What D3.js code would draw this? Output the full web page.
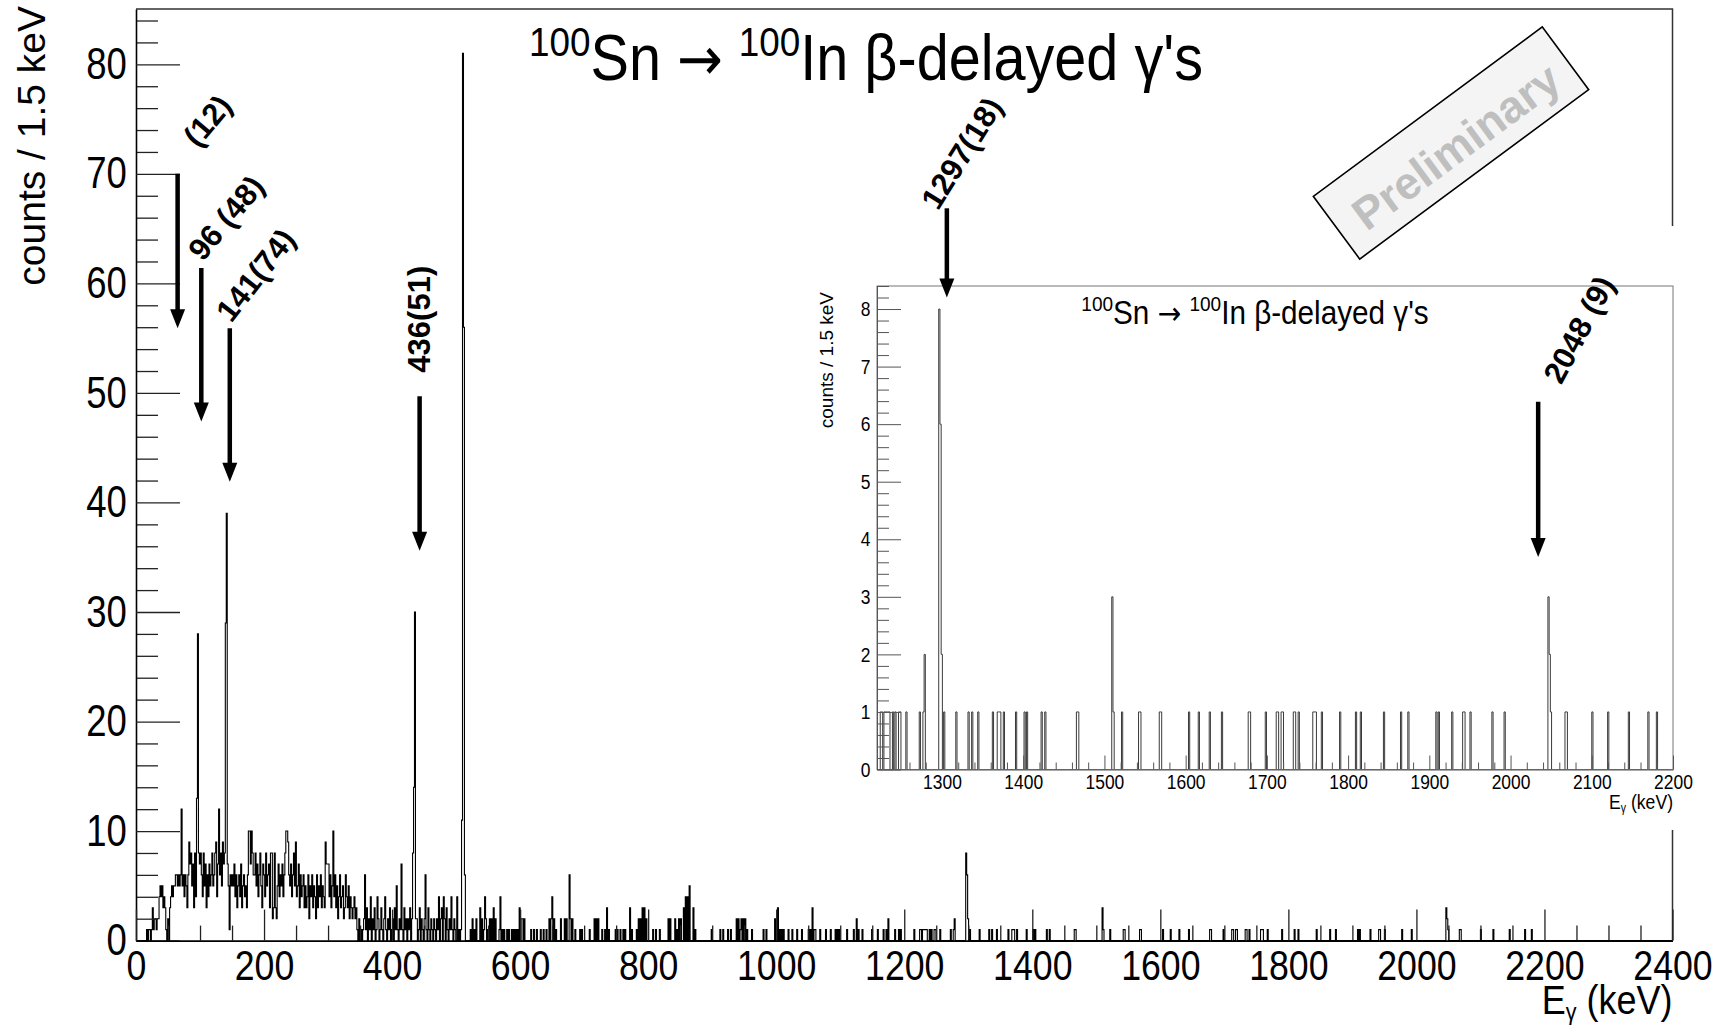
<!DOCTYPE html>
<html>
<head>
<meta charset="utf-8">
<script src="https://cdn.jsdelivr.net/npm/d3@7"></script>
<style>
  body { margin: 0; background: #fff; }
  svg { display: block; }
  text { font-family: "Liberation Sans", Arial, Helvetica, sans-serif; }
</style>
</head>
<body>
<svg id="chart" width="1731" height="1025"></svg>
<script>
// ---------------------------------------------------------------
// 100Sn -> 100In beta-delayed gamma spectrum, 1.5 keV bins
// ---------------------------------------------------------------
const binWidth = 1.5;   // keV per bin

// counts per bin, bins 0..99 (0 - 150 keV)
const counts0to150 = [
  0,0,0,0,0,0,0,0,0,0,0,
  1,0,1,1,0,1,
  3,1,2,2,1,2,2,
  4,5,4,5,3,4,
  3,1,0,2,0,3,
  4,5,4,5,5,6,
  6,5,6,5,6,
  12,
  5,6,4,6,5,3,6,
  9,7,8,5,7,3,8,4,
  13,28,8,
  7,8,6,4,8,5,7,3,6,4,7,5,6,8,5,
  6,8,9,4,7,12,6,8,5,9,7,8,
  29,39,7,
  5,1,6,5
];

// counts per bin, bins 100..199 (150 - 300 keV)
const counts150to300 = [
  6,5,7,4,6,3,5,6,4,7,3,5,6,4,5,3,6,
  10,10,7,10,8,6,
  6,8,5,7,4,6,8,5,3,7,6,4,8,5,6,7,3,
  8,8,2,3,8,3,2,
  5,7,4,6,
  5,7,4,6,8,
  10,10,9,6,5,
  7,4,6,8,5,9,
  4,5,7,3,6,4,5,6,3,
  5,3,4,6,2,5,4,6,3,5,4,2,6,3,5,4,6,3,5,4,3,
  9,7,7
];

// counts per bin, bins 200..343 (300 - 516 keV)
const counts300to516 = [
  7,4,6,3,5,
  10,
  4,6,3,5,2,4,6,3,4,5,2,3,6,4,3,5,2,4,3,2,3,4,2,3,1,0,2,
  0,1,0,1,2,
  6,
  1,3,0,2,1,4,0,2,1,3,0,1,4,2,0,1,3,1,0,2,4,1,0,2,1,3,0,1,2,0,3,1,
  5,
  1,0,2,1,
  7,
  1,0,3,1,2,0,2,1,3,0,2,
  8,14,30,2,
  2,0,1,3,0,2,1,0,2,
  6,
  1,0,3,1,0,2,1,0,2,1,0,2,1,
  4,
  0,2,3,0,
  4,
  2,0,3,1,0,2,1,
  4,
  1,0,2,1,0,
  4,
  0,1,0,1,
  11,81,56,6,0
];

// isolated non-empty bins above 516 keV: [energy keV, counts]
const hits516to1220 = [
  [522,1],[525,2],[528,1],[531,2],[537,3],[540,2],[543,1],[545,4],[547,2],[550,1],
  [553,2],[556,2],[559,3],[562,2],[567,1],[568.5,4],[571.5,1],[574.5,1],[579,1],[582,1],
  [586.5,1],[589.5,1],[592.5,1],[596,1],[598.5,3],[601.5,2],[603,2],[606,2],[617,1],[621,1],
  [625.5,1],[632,1],[637,1],[641,1],[646,2],[648,2],[650,4],[653,2],[656,1],[664,2],
  [670,2],[673,2],[676.5,6],[679,2],[682,2],[686,1],[694,1],[697,1],[709,1],[716,2],
  [719,2],[722,2],[728,1],[733,1],[735.5,3],[738,1],[749,1],[752,1],[757,1],[761,1],
  [764,1],[771,3],[775,1],[782,1],[785,2],[788,2],[791,3],[794,3],[797,2],[808,1],
  [812,1],[818,1],[831,2],[834,2],[842,2],[845,1],[848,2],[851,2],[855,3],[858,4],
  [862,4],[865,5],[870,3],[873,1],[899,1],[912,1],[917,1],[925,1],[929,1],[938,2],
  [941,2],[944,1],[946,2],[949,2],[952,2],[954,1],[962,1],[980,1],[985,1],[998,2],
  [1003,3],[1006,1],[1009,1],[1012,1],[1019,1],[1025,1],[1032,1],[1040,1],[1050,1],[1053,1],
  [1056,3],[1059,1],[1061,1],[1069,1],[1077,1],[1085,1],[1092,1],[1095,1],[1098,1],[1111,1],
  [1121,1],[1125,2],[1129,1],[1134,1],[1150,1],[1159,1],[1168,1],[1172,1],[1175,2],[1186,1],
  [1191,1],[1194,1],[1215,1]
];

const hits1220to2200 = [
  [1224,1],[1226,1],[1229,1],[1230.5,1],[1232,1],[1234,1],[1235.5,1],[1240,1],[1242,1],[1247.5,1],
  [1249,1],[1256.5,1],[1272,1],[1277,1],[1279,2],[1296,8],[1297.5,6],[1299,2],[1302,1],[1318,1],
  [1332,1],[1337,1],[1345,1],[1362,1],[1368.5,1],[1370,1],[1372,1],[1376,1],[1391,1],[1401,1],
  [1404,1],[1422,1],[1427,1],[1466,1],[1468,1],[1509,3],[1510.5,1],[1522,1],[1542,1],[1543.5,1],
  [1568,1],[1570,1],[1604,1],[1615.5,1],[1629,1],[1645,1],[1678,1],[1679.5,1],[1699,1],[1712,1],
  [1714,1],[1718,1],[1719.5,1],[1732.5,1],[1734,1],[1739.5,1],[1757,1],[1758.5,1],[1760,1],[1767.5,1],
  [1790,1],[1810,1],[1816,1],[1844.5,1],[1865,1],[1874,1],[1909,1],[1911,1],[1927.5,1],[1942,1],
  [1943.5,1],[1950,1],[1977,1],[1993,1],[2046,3],[2047.5,2],[2049,1],[2067,1],[2068.5,1],[2101,1],
  [2120.5,1],[2146,1],[2170,1],[2180,1]
];

// axis ticks
const mainXTicks = [0,200,400,600,800,1000,1200,1400,1600,1800,2000,2200,2400];
const mainYTicks = [0,10,20,30,40,50,60,70,80];
const insetXTicks = [1300,1400,1500,1600,1700,1800,1900,2000,2100,2200];
const insetYTicks = [0,1,2,3,4,5,6,7,8];

// identified transitions: label, arrow energy (keV), arrow top / tip (counts)
const mainPeakLabels  = ["(12)", "96 (48)", "141(74)", "436(51)"];
const mainPeakEnergy  = [65, 102, 146.5, 443];
const mainArrowTop    = [70, 61.4, 55.9, 49.7];
const mainArrowTip    = [55.9, 47.4, 41.9, 35.6];

const insetPeakLabels = ["1297(18)", "2048 (9)"];
const insetPeakEnergy = [1306, 2034];
const insetArrowTop   = [9.75, 6.39];
const insetArrowTip   = [8.2, 3.69];

// ---------------------------------------------------------------
const svg = d3.select("#chart");
const nBins = 1600;
const counts = new Array(nBins).fill(0);
[...counts0to150, ...counts150to300, ...counts300to516].forEach((c, i) => { counts[i] = c; });
[...hits516to1220, ...hits1220to2200].forEach(([e, c]) => { counts[Math.floor(e / binWidth + 1e-9)] = c; });

function stepPath(xs, ys, i0, i1) {
  let d = `M${xs(i0 * binWidth)},${ys(counts[i0])}`;
  for (let i = i0; i <= i1; i++) {
    d += `H${xs((i + 1) * binWidth)}`;
    if (i < i1) d += `V${ys(counts[i + 1])}`;
  }
  return d;
}

function arrow(g, px, y0, y1) {
  const head = 19, hw = 7.5;
  g.append("line").attr("x1", px).attr("x2", px).attr("y1", y0).attr("y2", y1 - head + 2)
    .attr("stroke", "#000").attr("stroke-width", 4.5);
  g.append("path").attr("d", `M${px - hw},${y1 - head}L${px + hw},${y1 - head}L${px},${y1}Z`)
    .attr("fill", "#000");
}

// narrow-set text: a group placed at (px,py) and squeezed horizontally
function narrowText(parent, px, py, sx, size, anchor) {
  return parent.append("g").attr("transform", `translate(${px},${py}) scale(${sx},1)`)
    .append("text").attr("text-anchor", anchor).attr("font-size", size);
}

function reactionTitle(sel, size) {
  const sup = t => sel.append("tspan").attr("font-size", size * 0.64).attr("baseline-shift", "60%").text(t);
  const txt = t => sel.append("tspan").text(t);
  sup("100"); txt("Sn ");
  sel.append("tspan").attr("font-family", "'DejaVu Sans', sans-serif").attr("font-size", size * 0.95).text("→");
  txt(" "); sup("100"); txt("In β-delayed γ's");
}

// ---------------- main frame ----------------
const M = { left: 136, right: 1672.5, top: 9, bottom: 940.6 };
const x = d3.scaleLinear().domain([0, 2400]).range([M.left, M.right]);
const y = d3.scaleLinear().domain([0, 85.05]).range([M.bottom, M.top]);
const tickSX = 0.83;

const mainG = svg.append("g");

// frame top/right
mainG.append("path")
  .attr("d", `M${M.left},${M.top}H${M.right}V${M.bottom}`)
  .attr("fill", "none").attr("stroke", "#333").attr("stroke-width", 1.5);

// histogram
mainG.append("path")
  .attr("d", stepPath(x, y, 0, nBins - 1))
  .attr("fill", "none").attr("stroke", "#000").attr("stroke-width", 1.1);

// y axis
const yMinor = d3.range(0, 85, 2).filter(v => v % 10 !== 0);
mainG.append("g").attr("transform", `translate(${M.left},0)`)
  .call(d3.axisLeft(y).tickValues(yMinor).tickSize(-22).tickFormat(""))
  .call(g => g.select(".domain").remove());
const yAx = mainG.append("g").attr("transform", `translate(${M.left},0)`)
  .call(d3.axisLeft(y).tickValues(mainYTicks).tickSize(-44).tickSizeOuter(0).tickPadding(11).tickFormat(d3.format("d")));
yAx.selectAll("text").attr("font-size", 44).attr("fill", "#000").attr("transform", `scale(${tickSX},1)`);

// x axis
const xMinor = d3.range(0, 2401, 50).filter(v => v % 200 !== 0);
mainG.append("g").attr("transform", `translate(0,${M.bottom})`)
  .call(d3.axisBottom(x).tickValues(xMinor).tickSize(-15).tickFormat(""))
  .call(g => g.select(".domain").remove());
const xAx = mainG.append("g").attr("transform", `translate(0,${M.bottom})`)
  .call(d3.axisBottom(x).tickValues(mainXTicks).tickSize(-31).tickSizeOuter(0).tickPadding(9).tickFormat(d3.format("d")));
xAx.selectAll("text").attr("font-size", 43).attr("fill", "#000").attr("transform", `scale(${tickSX},1)`);

mainG.selectAll(".tick line").attr("stroke", "#222").attr("stroke-width", 1.3);
mainG.selectAll(".domain").attr("stroke", "#000").attr("stroke-width", 1.6);

// axis titles
mainG.append("text")
  .attr("transform", `translate(45,6) rotate(-90)`)
  .attr("text-anchor", "end").attr("font-size", 39)
  .text("counts / 1.5 keV");

const xt = narrowText(mainG, M.right, 1014, 0.9, 40, "end");
xt.append("tspan").text("E");
xt.append("tspan").attr("font-size", 24).attr("baseline-shift", "-25%").text("γ");
xt.append("tspan").text(" (keV)");

// title
reactionTitle(narrowText(mainG, 866, 80, 0.9, 64, "middle"), 64);

// ---------------- inset ----------------
const I = { left: 877, right: 1673, top: 286, bottom: 769.5 };
const xi = d3.scaleLinear().domain([1220, 2200]).range([I.left, I.right]);
const yi = d3.scaleLinear().domain([0, 8.4]).range([I.bottom, I.top]);

const insetG = svg.append("g");
insetG.append("rect")
  .attr("x", 805).attr("y", 226).attr("width", 900).attr("height", 604)
  .attr("fill", "#fff");

insetG.append("clipPath").attr("id", "insetClip")
  .append("rect").attr("x", I.left).attr("y", I.top).attr("width", I.right - I.left).attr("height", I.bottom - I.top);

insetG.append("path")
  .attr("clip-path", "url(#insetClip)")
  .attr("d", stepPath(xi, yi, Math.floor(1220 / binWidth), Math.floor(2199.9 / binWidth)))
  .attr("fill", "none").attr("stroke", "#3a3a3a").attr("stroke-width", 1);

insetG.append("rect")
  .attr("x", I.left).attr("y", I.top).attr("width", I.right - I.left).attr("height", I.bottom - I.top)
  .attr("fill", "none").attr("stroke", "#777").attr("stroke-width", 1);

const yiMinor = d3.range(0, 8.41, 0.2).filter(v => Math.abs(v - Math.round(v)) > 1e-6);
insetG.append("g").attr("transform", `translate(${I.left},0)`)
  .call(d3.axisLeft(yi).tickValues(yiMinor).tickSize(-12).tickFormat(""))
  .call(g => g.select(".domain").remove());
const yiAx = insetG.append("g").attr("transform", `translate(${I.left},0)`)
  .call(d3.axisLeft(yi).tickValues(insetYTicks).tickSize(-24).tickSizeOuter(0).tickPadding(8).tickFormat(d3.format("d")));
yiAx.selectAll("text").attr("font-size", 21).attr("fill", "#000").attr("transform", `scale(${tickSX},1)`);

const xiMinor = d3.range(1220, 2201, 20).filter(v => v % 100 !== 0);
insetG.append("g").attr("transform", `translate(0,${I.bottom})`)
  .call(d3.axisBottom(xi).tickValues(xiMinor).tickSize(-7).tickFormat(""))
  .call(g => g.select(".domain").remove());
const xiAx = insetG.append("g").attr("transform", `translate(0,${I.bottom})`)
  .call(d3.axisBottom(xi).tickValues(insetXTicks).tickSize(-14).tickSizeOuter(0).tickPadding(5).tickFormat(d3.format("d")));
xiAx.selectAll("text").attr("font-size", 21).attr("fill", "#000").attr("transform", `scale(${tickSX},1)`);

insetG.selectAll(".tick line").attr("stroke", "#555").attr("stroke-width", 1);
insetG.selectAll(".domain").attr("stroke", "#555").attr("stroke-width", 1);

insetG.append("text")
  .attr("transform", `translate(833,292) rotate(-90)`)
  .attr("text-anchor", "end").attr("font-size", 19)
  .text("counts / 1.5 keV");

const xit = narrowText(insetG, I.right, 809, 0.88, 20, "end");
xit.append("tspan").text("E");
xit.append("tspan").attr("font-size", 12).attr("baseline-shift", "-25%").text("γ");
xit.append("tspan").text(" (keV)");

reactionTitle(narrowText(insetG, 1255, 324, 0.9, 33, "middle"), 33);

// ---------------- annotations ----------------
const annG = svg.append("g");
const mainLabelOffsets = [[30, -53], [25, -50], [26, -53], [0, -77]];
const mainLabelAngles = [-50, -50, -52, -90];
mainPeakLabels.forEach((lab, i) => {
  const px = x(mainPeakEnergy[i]), y0 = y(mainArrowTop[i]), y1 = y(mainArrowTip[i]);
  arrow(annG, px, y0, y1);
  annG.append("text")
    .attr("transform", `translate(${px + mainLabelOffsets[i][0]},${y0 + mainLabelOffsets[i][1]}) rotate(${mainLabelAngles[i]})`)
    .attr("text-anchor", "middle").attr("dominant-baseline", "central")
    .attr("font-size", 31).attr("font-weight", "bold").text(lab);
});

const insetLabelOffsets = [[15, -55], [41, -72]];
const insetLabelAngles = [-58, -62];
insetPeakLabels.forEach((lab, i) => {
  const px = xi(insetPeakEnergy[i]), y0 = yi(insetArrowTop[i]), y1 = yi(insetArrowTip[i]);
  arrow(annG, px, y0, y1);
  annG.append("text")
    .attr("transform", `translate(${px + insetLabelOffsets[i][0]},${y0 + insetLabelOffsets[i][1]}) rotate(${insetLabelAngles[i]})`)
    .attr("text-anchor", "middle").attr("dominant-baseline", "central")
    .attr("font-size", 31).attr("font-weight", "bold").text(lab);
});

// "Preliminary" stamp
const stamp = svg.append("g").attr("transform", "translate(1451,143) rotate(-36.5)");
stamp.append("rect")
  .attr("x", -142.4).attr("y", -39).attr("width", 284.8).attr("height", 78)
  .attr("fill", "#f4f4f4").attr("stroke", "#000").attr("stroke-width", 1.6);
stamp.append("text")
  .attr("x", 2).attr("y", 6).attr("text-anchor", "middle").attr("dominant-baseline", "central")
  .attr("font-family", "'DejaVu Sans', sans-serif").attr("font-weight", "bold")
  .attr("font-size", 45).attr("fill", "#bfbfbf").text("Preliminary");
</script>
</body>
</html>
